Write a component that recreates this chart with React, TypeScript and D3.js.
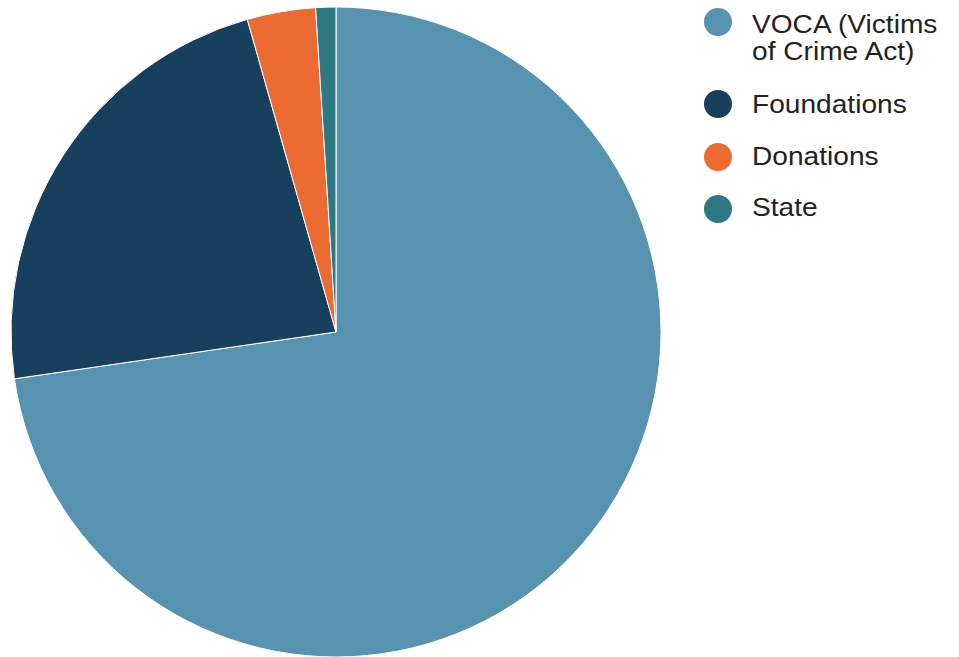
import React from "react";
import * as d3 from "d3";

const categories = ["VOCA (Victims of Crime Act)", "Foundations", "Donations", "State"];
const legendLines = [["VOCA (Victims", "of Crime Act)"], ["Foundations"], ["Donations"], ["State"]];
const values = [72.7, 22.9, 3.4, 1.0];
const colors = ["#5792b0", "#173f5e", "#ec6b33", "#2e7883"];

export default function App() {
  const width = 959, height = 657;
  const cx = 336, cy = 332, r = 325;
  const pie = d3.pie<number>().sort(null).startAngle(0).endAngle(2 * Math.PI)(values);
  const arc = d3.arc<d3.PieArcDatum<number>>().innerRadius(0).outerRadius(r);
  const circleY = [22, 104, 157, 209];
  const baseY = [33, 113, 165, 216];
  return (
    <svg width={width} height={height} style={{ position: "absolute", left: 0, top: 0, background: "#fff" }}
      fontFamily="'Liberation Sans', Arial, Helvetica, sans-serif">
      <g transform={`translate(${cx},${cy})`}>
        {pie.map((d, i) => (
          <path key={categories[i]} d={arc(d) || ""} fill={colors[i]} stroke="#fff" strokeWidth={1} />
        ))}
      </g>
      <g>
        {categories.map((c, i) => (
          <g key={c}>
            <circle cx={718} cy={circleY[i]} r={14} fill={colors[i]} />
            <text transform={`translate(752,${baseY[i]}) scale(1.125,1)`} fontSize={25} fill="#222">
              {legendLines[i].map((l, j) => (
                <tspan key={j} x={0} dy={j === 0 ? 0 : 27}>{l}</tspan>
              ))}
            </text>
          </g>
        ))}
      </g>
    </svg>
  );
}
